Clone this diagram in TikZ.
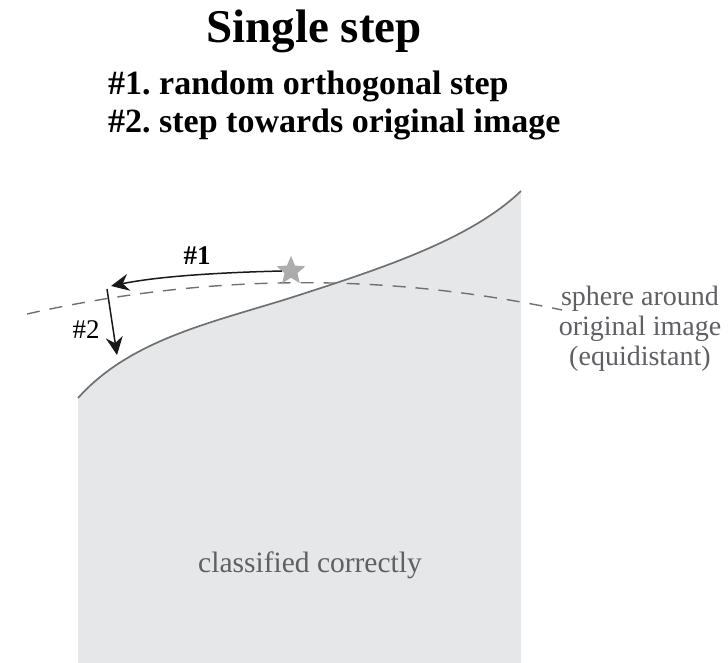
\documentclass[tikz,border=0pt]{standalone}
\usepackage{fontspec}
\setmainfont{Liberation Serif}
\usetikzlibrary{arrows.meta,shapes.geometric}
\definecolor{regionfill}{RGB}{230,231,233}
\definecolor{edgegray}{RGB}{112,112,114}
\definecolor{textgray}{RGB}{95,95,100}
\definecolor{stargray}{RGB}{172,172,174}
\frenchspacing

\begin{document}
\begin{tikzpicture}[x=1pt, y=-1pt,
    title/.style={font=\fontsize{47}{50}\selectfont\bfseries, anchor=base, inner sep=0pt},
    subtitle/.style={font=\fontsize{34}{36}\selectfont\bfseries, anchor=base west, inner sep=0pt},
    note/.style={font=\fontsize{28}{30}\selectfont, text=textgray, align=center, inner sep=0pt},
    steplabel/.style={font=\fontsize{27}{29}\selectfont, inner sep=0pt},
    arr/.style={-{Stealth[length=18pt,width=17pt,inset=6pt]}, line width=1.5pt, draw=black!90}
]
\useasboundingbox (0,0) rectangle (728,663);
% correctly classified region
\fill[regionfill] (78,663) -- (78,398) .. controls (130,340) and (210,323) .. (290,298)
    .. controls (380,269) and (470,240) .. (521,191) -- (521,663) -- cycle;
\draw[edgegray, line width=1.7pt] (78,398) .. controls (130,340) and (210,323) .. (290,298)
    .. controls (380,269) and (470,240) .. (521,191);
% sphere around the original image
\draw[edgegray, line width=1.4pt, dash pattern=on 13pt off 10pt] (27,314) .. controls (205,274) and (382,272) .. (562,310);

\node[title] (title) at (314,43) {Single step};
\node[subtitle] (line1) at (108,95) {\#1. random orthogonal step};
\node[subtitle] (line2) at (108,133) {\#2. step towards original image};

\node[star, star points=5, star point ratio=2.2, fill=stargray, minimum size=30pt, inner sep=0pt] (start) at (291,271) {};
\coordinate (turn) at (111,286);
\coordinate (down1) at (107,289);
\coordinate (down2) at (117,355);

\draw[arr] (start.west) .. controls (200,273) and (150,278) .. (turn);
\draw[arr] (down1) -- (down2);
\node[steplabel, font=\fontsize{27}{29}\selectfont\bfseries] (lab1) at (197,256) {\#1};
\node[steplabel] (lab2) at (86,330) {\#2};

\node[note] (sphere) at (640,329) {sphere around\\original image\\(equidistant)};
\node[note, font=\fontsize{29.5}{31}\selectfont, anchor=base] (region) at (310,572) {classified correctly};
\end{tikzpicture}
\end{document}
